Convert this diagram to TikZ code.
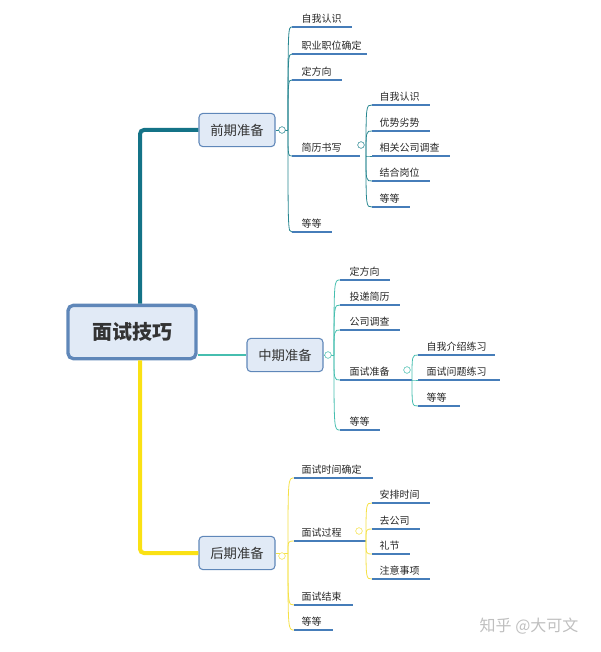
\documentclass[tikz,border=0pt]{standalone}
\usepackage{fontspec}
\setmainfont{Noto Sans CJK SC}
\usetikzlibrary{positioning}
\definecolor{lineblue}{RGB}{70,125,185}
\definecolor{tealdark}{RGB}{20,115,135}
\definecolor{tealthin}{RGB}{40,135,145}
\definecolor{cyanthin}{RGB}{70,190,175}
\definecolor{yellowthin}{RGB}{245,225,70}
\definecolor{yellowthick}{RGB}{250,225,20}
\definecolor{boxfill}{RGB}{225,234,246}
\definecolor{boxdraw}{RGB}{95,135,185}
\begin{document}
\begin{tikzpicture}[x=0.75pt,y=-0.75pt,
    rootbox/.style = {
      draw = boxdraw,
      line width = 2.5pt,
      fill = boxfill,
      rounded corners = 4pt,
      minimum width = 96pt,
      minimum height = 40pt,
      font = \fontsize{15}{18}\selectfont\bfseries,
      text = black!80
    },
    phasebox/.style = {
      draw = boxdraw,
      line width = 0.8pt,
      fill = boxfill,
      rounded corners = 3pt,
      minimum width = 57pt,
      minimum height = 25pt,
      font = \fontsize{10}{12}\selectfont,
      text = black!80
    },
    leaftext/.style = {
      anchor = south west,
      inner sep = 1pt,
      font = \fontsize{7.5}{9}\selectfont,
      text = black!85
    },
    knob/.style = {
      draw,
      fill = white,
      circle,
      inner sep = 0pt,
      minimum size = 5pt,
      line width = 0.4pt
    }
  ]
  \useasboundingbox (0,0) rectangle (600,652);

  % main nodes
  \node[rootbox] (root) at (132,332) {面试技巧};
  \node[phasebox] (early) at (237,130) {前期准备};
  \node[phasebox] (mid) at (285,355) {中期准备};
  \node[phasebox] (late) at (237,553) {后期准备};

  % main branches
  \draw[tealdark, line width=3pt, rounded corners=3pt]
    ([xshift=6pt]root.north) |- (early.west);
  \draw[cyanthin, line width=0.8pt] (root.east |- mid.west) -- (mid.west);
  \draw[yellowthick, line width=3pt, rounded corners=3pt]
    ([xshift=6pt]root.south) |- (late.west);

  % hubs
  \coordinate (hE) at (288,130);
  \coordinate (hEs) at (366,156);
  \coordinate (hM) at (334,355);
  \coordinate (hMs) at (412,380);
  \coordinate (hL) at (288,553);
  \coordinate (hLs) at (366,541);

  \draw[tealthin, line width=0.6pt] (early.east) -- (hE);
  \draw[cyanthin, line width=0.6pt] (mid.east) -- (hM);
  \draw[yellowthin, line width=0.6pt] (late.east) -- (hL);

  % leaves: name/x1/x2/y/text
  \foreach \n/\xa/\xb/\y/\t in {
      e1/292/352/27/自我认识, e2/292/367/54/职业职位确定,
      e3/292/342/80/定方向, e4/292/360/156/简历书写, e5/292/332/232/等等} {
    \coordinate (\n) at (\xa,\y);
    \draw[tealthin, line width=0.6pt] (hE) .. controls (hE |- \n) .. (\n);
    \draw[lineblue, line width=1.2pt] (\n) -- (\xb,\y);
    \node[leaftext] (\n t) at (300,\y-2) {\t};
  }
  \foreach \n/\xa/\xb/\y/\t in {
      es1/372/430/105/自我认识, es2/372/430/131/优势劣势,
      es3/372/450/156/相关公司调查, es4/372/430/181/结合岗位, es5/372/410/207/等等} {
    \coordinate (\n) at (\xa,\y);
    \draw[tealthin, line width=0.6pt] (hEs) .. controls (hEs |- \n) .. (\n);
    \draw[lineblue, line width=1.2pt] (\n) -- (\xb,\y);
    \node[leaftext] (\n t) at (378,\y-2) {\t};
  }
  \foreach \n/\xa/\xb/\y/\t in {
      m1/340/390/280/定方向, m2/340/400/305/投递简历,
      m3/340/400/330/公司调查, m4/340/412/380/面试准备, m5/340/380/430/等等} {
    \coordinate (\n) at (\xa,\y);
    \draw[cyanthin, line width=0.6pt] (hM) .. controls (hM |- \n) .. (\n);
    \draw[lineblue, line width=1.2pt] (\n) -- (\xb,\y);
    \node[leaftext] (\n t) at (348,\y-2) {\t};
  }
  \foreach \n/\xa/\xb/\y/\t in {
      ms1/418/495/355/自我介绍练习, ms2/418/500/380/面试问题练习, ms3/418/460/406/等等} {
    \coordinate (\n) at (\xa,\y);
    \draw[cyanthin, line width=0.6pt] (hMs) .. controls (hMs |- \n) .. (\n);
    \draw[lineblue, line width=1.2pt] (\n) -- (\xb,\y);
    \node[leaftext] (\n t) at (425,\y-2) {\t};
  }
  \foreach \n/\xa/\xb/\y/\t in {
      l1/294/373/478/面试时间确定, l2/294/366/541/面试过程,
      l3/294/353/605/面试结束, l4/294/333/630/等等} {
    \coordinate (\n) at (\xa,\y);
    \draw[yellowthin, line width=0.6pt] (hL) .. controls (hL |- \n) .. (\n);
    \draw[lineblue, line width=1.2pt] (\n) -- (\xb,\y);
    \node[leaftext] (\n t) at (300,\y-2) {\t};
  }
  \foreach \n/\xa/\xb/\y/\t in {
      ls1/372/430/503/安排时间, ls2/372/420/529/去公司,
      ls3/372/410/554/礼节, ls4/372/430/579/注意事项} {
    \coordinate (\n) at (\xa,\y);
    \draw[yellowthin, line width=0.6pt] (hLs) .. controls (hLs |- \n) .. (\n);
    \draw[lineblue, line width=1.2pt] (\n) -- (\xb,\y);
    \node[leaftext] (\n t) at (378,\y-2) {\t};
  }

  % collapse knobs
  \node[knob, draw=tealthin] (kE) at (282,130) {};
  \node[knob, draw=tealthin] (kEs) at (361,145) {};
  \node[knob, draw=cyanthin] (kM) at (328,355) {};
  \node[knob, draw=cyanthin] (kMs) at (407,370) {};
  \node[knob, draw=yellowthin] (kL) at (282,556) {};
  \node[knob, draw=yellowthin] (kLs) at (359,531) {};

  % watermark
  \node[font=\fontsize{12}{14}\selectfont, text=black!25, anchor=west] (mark) at (475,626) {知乎 @大可文};
\end{tikzpicture}
\end{document}
